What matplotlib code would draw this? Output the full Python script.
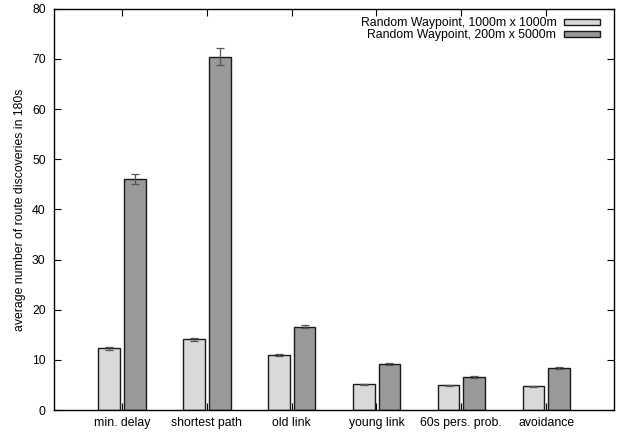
import matplotlib
matplotlib.use("Agg")
import matplotlib.pyplot as plt
import numpy as np

categories = ["min. delay", "shortest path", "old link", "young link",
              "60s pers. prob.", "avoidance"]
square_vals = [12.3, 14.1, 10.9, 5.1, 4.9, 4.7]
square_err = [0.25, 0.3, 0.2, 0.1, 0.1, 0.1]
strip_vals = [46.0, 70.4, 16.6, 9.2, 6.6, 8.3]
strip_err = [1.0, 1.7, 0.3, 0.2, 0.15, 0.2]
series_labels = ["Random Waypoint, 1000m x 1000m",
                 "Random Waypoint, 200m x 5000m"]
yticks = [0, 10, 20, 30, 40, 50, 60, 70, 80]

fs = 8.8
plt.rcParams["font.family"] = ["Liberation Sans", "DejaVu Sans"]
plt.rcParams["font.size"] = fs

fig = plt.figure(figsize=(6.18, 4.33), dpi=100)
ax = fig.add_axes([0.0874, 0.053, 0.9061, 0.927])

x = np.arange(1, len(categories) + 1)
w = 0.255
err_kw = dict(ecolor="#555555", elinewidth=0.9, capsize=3.2, capthick=0.9)
ax.bar(x - 0.15, square_vals, w, yerr=square_err, color="#d9d9d9",
       edgecolor="#1a1a1a", linewidth=1.0, error_kw=err_kw,
       label=series_labels[0], zorder=2)
ax.bar(x + 0.153, strip_vals, w, yerr=strip_err, color="#999999",
       edgecolor="#1a1a1a", linewidth=1.0, error_kw=err_kw,
       label=series_labels[1], zorder=2)

ax.set_xlim(0.2, 6.8)
ax.set_ylim(0, 80)
ax.set_xticks(x)
ax.set_xticklabels(categories)
ax.set_yticks(yticks)
ax.tick_params(direction="in", length=5, width=0.8, top=True, right=True,
               labelsize=fs, pad=5)
ax.tick_params(axis="y", pad=6)
for s in ax.spines.values():
    s.set_linewidth(1.0)
ax.set_ylabel("average number of route discoveries in 180s", fontsize=fs,
              labelpad=4)

ax.legend(loc="upper right", frameon=False, markerfirst=False,
          handlelength=2.9, handleheight=0.35, labelspacing=0.02,
          borderaxespad=0.3, handletextpad=0.65, fontsize=fs,
          bbox_to_anchor=(0.99, 1.0))

fig.savefig("out.png", dpi=100)
